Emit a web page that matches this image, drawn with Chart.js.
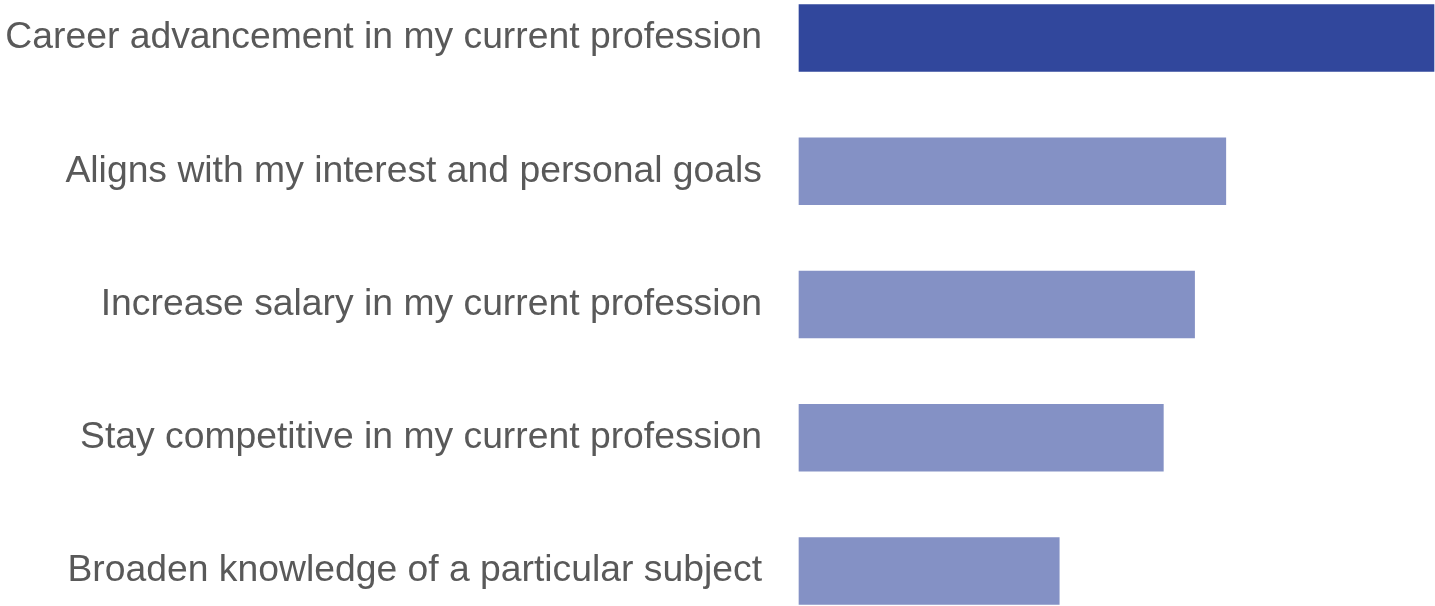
<!DOCTYPE html>
<html>
<head>
<meta charset="utf-8">
<script src="https://cdn.jsdelivr.net/npm/chart.js@4"></script>
<style>
  body{margin:0;background:#fff;}
  #wrap{width:1435px;height:606px;position:relative;}
</style>
</head>
<body>
<div id="wrap"><canvas id="reasonChart"></canvas></div>
<script>
// categories and values (percent of respondents)
const reasons=[
    "Career advancement in my current profession",
    "Aligns with my interest and personal goals",
    "Increase salary in my current profession",
    "Stay competitive in my current profession",
    "Broaden knowledge of a particular subject"
];
const shares=[61,41,38,35,25];
const barColors=["#31479c","#8491c5","#8491c5","#8491c5","#8491c5"];

let chart=new Chart(document.getElementById("reasonChart"),{
    type:"bar",
    data:{
        labels:reasons,
        datasets:[{
            data:shares,
            backgroundColor:barColors,
            barThickness:67,
            clip:false
        }]
    },
    options:{
        indexAxis:"y",
        responsive:true,
        maintainAspectRatio:false,
        animation:false,
        layout:{padding:{top:38,bottom:35,right:1,left:0}},
        plugins:{legend:{display:false},tooltip:{enabled:false}},
        scales:{
            x:{display:false,min:0,max:61},
            y:{
                offset:false,
                // invisible tick marks give the gap between label and bar
                grid:{display:true,drawOnChartArea:false,drawTicks:true,tickLength:37,tickColor:"rgba(0,0,0,0)"},
                border:{display:false},
                ticks:{
                    color:"#595959",
                    padding:0,
                    font:{family:"'Liberation Sans', Arial, sans-serif",size:37.3}
                },
                afterFit:function(s){ s.width=799; }
            }
        }
    }
});
</script>
</body>
</html>
